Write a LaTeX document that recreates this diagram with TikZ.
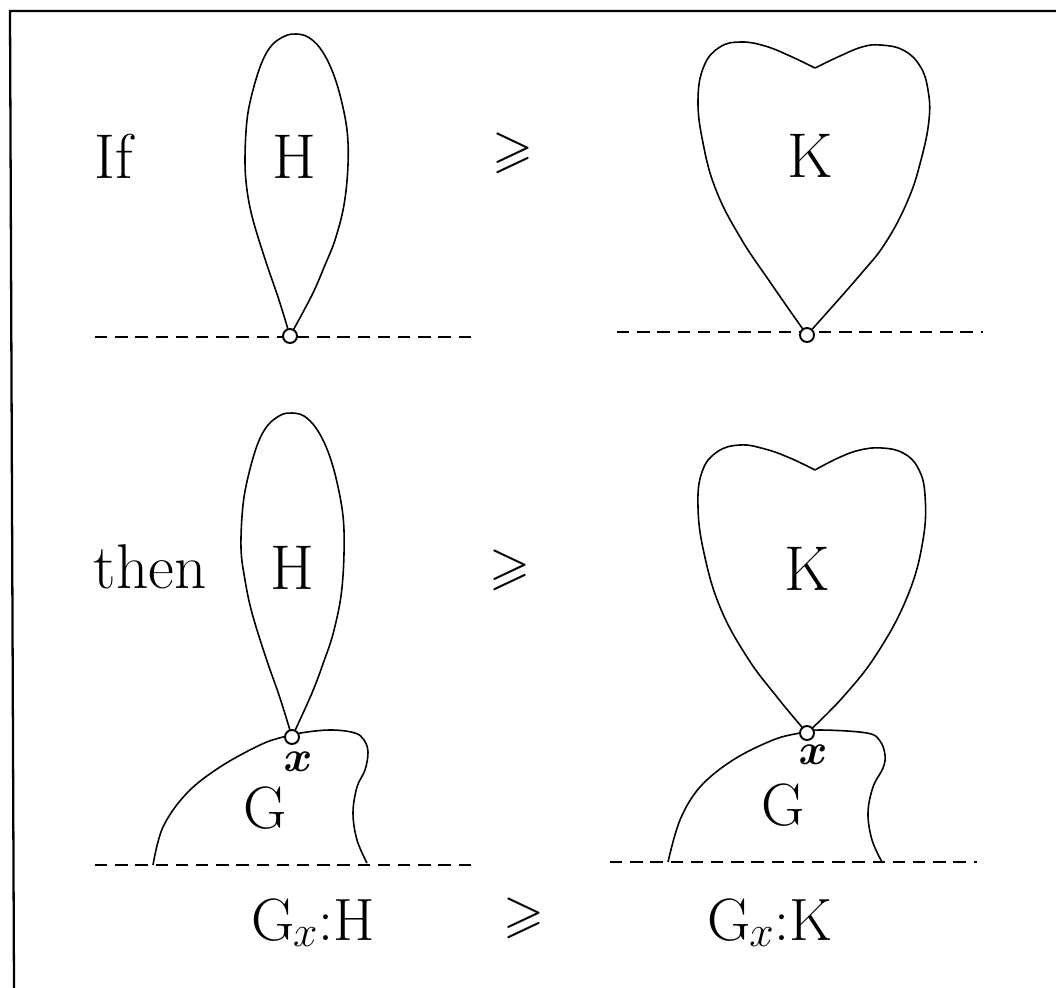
\documentclass[tikz,border=0pt]{standalone}
\usepackage{fontspec}
\usepackage{amssymb}
\begin{document}
\begin{tikzpicture}[x=0.02cm,y=-0.02cm,
  curve/.style={line width=0.9pt, line join=round},
  guide/.style={line width=1.1pt, dash pattern=on 7pt off 4.5pt},
  vertex/.style={circle, draw, fill=white, line width=1.1pt, inner sep=0pt, minimum size=0.28cm},
  lbl/.style={font=\fontsize{36}{40}\selectfont, inner sep=0pt, anchor=base},
  sublbl/.style={font=\fontsize{34}{38}\selectfont, inner sep=0pt, anchor=base},
  rel/.style={font=\fontsize{30}{34}\selectfont, inner sep=0pt},
  ptlbl/.style={font=\fontsize{26}{30}\selectfont\boldmath, inner sep=0pt}
]
\useasboundingbox (0,0) rectangle (1056,988);
% frame
\draw[line width=1.3pt] (14,988) -- (10,11) -- (1056,11);

% ---------- top row ----------
\draw[guide] (95,337) -- (475,337);
\draw[guide] (617,332) -- (983,332);
% drop H (top)
\draw[curve] plot[smooth, tension=0.6] coordinates {(290,336) (279,300) (266,262) (253,220) (247,190) (245,160) (247,120) (253,90) (262,62) (272,45) (285,36) (296,34) (308,37) (320,48) (331,68) (340,95) (347,130) (348,165) (344,205) (335,240) (325,265) (312,295) (290,336)};
% heart K (top)
\draw[curve] plot[smooth, tension=0.7] coordinates {(807,335) (770,282) (740,237) (716,190) (703,143) (698,100) (704,66) (720,47) (741,42) (765,46) (790,56) (815,68)};
\draw[curve] plot[smooth, tension=0.7] coordinates {(815,68) (840,56) (862,47) (880,45) (903,50) (920,66) (928,90) (929,120) (921,160) (908,200) (886,242) (860,275) (807,335)};
\node[vertex] (v1) at (290,336) {};
\node[vertex] (v2) at (807,335) {};
\node[lbl] (if) at (114,178) {If};
\node[lbl] (h1) at (294,178) {H};
\node[rel] (r1) at (513,153) {$\geqslant$};
\node[lbl] (k1) at (810,177) {K};

% ---------- middle / bottom ----------
\draw[guide] (95,865) -- (475,865);
\draw[guide] (610,862) -- (977,862);
% G shapes
\draw[curve] plot[smooth, tension=0.6] coordinates {(153,865) (163,827) (187,793) (220,767) (260,745) (283,737) (307,732) (333,730) (355,733) (364,740) (368,752) (365,770) (357,787) (353,813) (357,840) (367,863)};
\draw[curve] plot[smooth, tension=0.6] coordinates {(668,862) (680,820) (700,787) (733,760) (773,740) (800,733) (820,730) (867,733) (880,741) (885,755) (883,768) (873,787) (868,813) (872,840) (882,862)};
% drop H (bottom)
\draw[curve] plot[smooth, tension=0.6] coordinates {(292,737) (280,698) (266,658) (252,613) (245,580) (241,548) (243,505) (249,473) (258,443) (268,425) (281,415) (292,413) (304,416) (316,428) (327,449) (336,478) (343,516) (344,554) (341,596) (333,634) (324,661) (312,693) (292,737)};
% heart K (bottom)
\draw[curve] plot[smooth, tension=0.7] coordinates {(807,733) (777,697) (747,657) (720,607) (704,553) (698,507) (702,472) (717,452) (740,445) (765,449) (790,458) (815,470)};
\draw[curve] plot[smooth, tension=0.7] coordinates {(815,470) (838,458) (860,450) (882,448) (903,453) (918,468) (925,495) (923,540) (908,595) (878,652) (843,697) (807,733)};
\node[vertex] (v3) at (292,737) {};
\node[vertex] (v4) at (807,733) {};
\node[lbl] (then) at (150,588) {then};
\node[lbl] (h2) at (292,589) {H};
\node[rel] (r2) at (510,570) {$\geqslant$};
\node[lbl] (k2) at (807,590) {K};
\node[ptlbl] (x1) at (298,762) {$x$};
\node[ptlbl] (x2) at (813,755) {$x$};
\node[sublbl] (g1) at (265,828) {G};
\node[sublbl] (g2) at (783,825) {G};
% formula row
\node[sublbl] (f1) at (313,940) {G\kern-1pt$_{x}$:H};
\node[rel] (r3) at (524,918) {$\geqslant$};
\node[sublbl] (f2) at (770,940) {G\kern-1pt$_{x}$:K};
\end{tikzpicture}
\end{document}
